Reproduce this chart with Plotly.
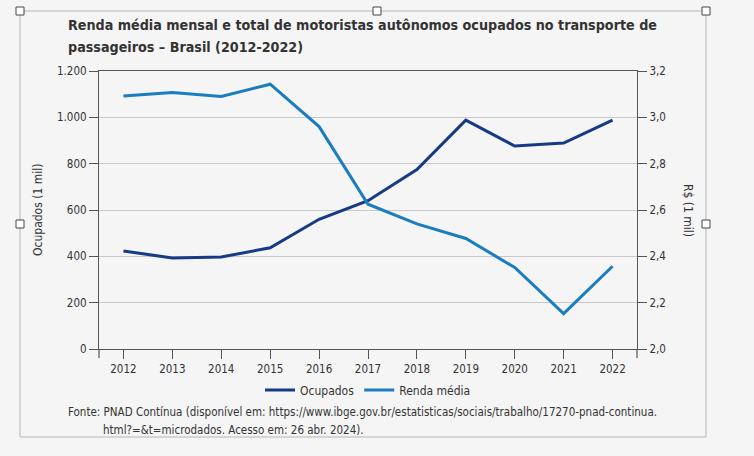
import plotly.graph_objects as go

anos = [2012, 2013, 2014, 2015, 2016, 2017, 2018, 2019, 2020, 2021, 2022]
ocupados = [423, 393, 397, 437, 560, 640, 775, 988, 876, 889, 988]
renda_media = [3.092, 3.107, 3.090, 3.143, 2.960, 2.625, 2.540, 2.477, 2.352, 2.153, 2.357]
y1_ticks = [0, 200, 400, 600, 800, 1000, 1200]
y1_labels = ["0", "200", "400", "600", "800", "1.000", "1.200"]
y2_ticks = [2.0, 2.2, 2.4, 2.6, 2.8, 3.0, 3.2]
y2_labels = ["2,0", "2,2", "2,4", "2,6", "2,8", "3,0", "3,2"]

FONT = "DejaVu Sans Condensed, Lato, sans-serif"
TXT = "#333333"
C_OCUP = "#173a86"
C_RENDA = "#1a7dc0"
BG = "#f5f5f5"

fig = go.Figure()
fig.add_trace(go.Scatter(x=anos, y=ocupados, name="Ocupados", mode="lines",
                         line=dict(color=C_OCUP, width=3), yaxis="y"))
fig.add_trace(go.Scatter(x=anos, y=renda_media, name="Renda média", mode="lines",
                         line=dict(color=C_RENDA, width=3), yaxis="y2"))

W, H = 754, 456
L, R, T, B = 99, 637, 71, 349

def px_x(x):
    return (x - L) / (R - L)

def px_y(y):
    return (B - y) / (B - T)

fig.update_layout(
    width=W, height=H,
    margin=dict(l=L, r=W - R, t=T, b=H - B, pad=0, autoexpand=False),
    paper_bgcolor=BG, plot_bgcolor=BG,
    font=dict(family=FONT, size=12, color=TXT),
    showlegend=True,
    legend=dict(orientation="h", x=0.5, xanchor="center",
                y=px_y(390), yanchor="middle",
                font=dict(size=12, color=TXT), itemwidth=30, bgcolor="rgba(0,0,0,0)",
                tracegroupgap=0),
    xaxis=dict(range=[2011.5, 2022.5], tickmode="array", tickvals=anos,
               ticktext=[str(a) for a in anos], showgrid=False, zeroline=False,
               showline=True, mirror=True, linecolor="#555555", linewidth=1.2,
               ticks="outside", ticklen=9, tickcolor="#555555", automargin=False,
               tickfont=dict(size=11.5, color=TXT)),
    yaxis=dict(range=[0, 1200], tickmode="array", tickvals=y1_ticks, ticktext=y1_labels,
               showgrid=True, gridcolor="#c9c9c9", gridwidth=1.2, zeroline=False,
               showline=True, linecolor="#555555", linewidth=1.2, automargin=False,
               ticks="outside", ticklen=9, tickcolor="#555555",
               tickfont=dict(size=11.5, color=TXT)),
    yaxis2=dict(range=[2.0, 3.2], tickmode="array", tickvals=y2_ticks, ticktext=y2_labels,
                overlaying="y", side="right", showgrid=False, zeroline=False,
                showline=True, linecolor="#555555", linewidth=1.2, automargin=False,
                ticks="outside", ticklen=9, tickcolor="#555555",
                tickfont=dict(size=11.5, color=TXT)),
)

ann = [
    dict(text="<b>Renda média mensal e total de motoristas autônomos ocupados no transporte de</b>",
         x=px_x(66), y=px_y(25), xanchor="left", yanchor="middle", font=dict(size=14.2, color=TXT)),
    dict(text="<b>passageiros – Brasil (2012-2022)</b>",
         x=px_x(66), y=px_y(47), xanchor="left", yanchor="middle", font=dict(size=14.2, color=TXT)),
    dict(text="Ocupados (1 mil)", x=px_x(38), y=px_y(210), textangle=-90,
         xanchor="center", yanchor="middle", font=dict(size=12, color=TXT)),
    dict(text="R$ (1 mil)", x=px_x(688), y=px_y(210), textangle=90,
         xanchor="center", yanchor="middle", font=dict(size=12, color=TXT)),
    dict(text="Fonte: PNAD Contínua (disponível em: https://www.ibge.gov.br/estatisticas/sociais/trabalho/17270-pnad-continua.",
         x=px_x(66), y=px_y(412), xanchor="left", yanchor="middle", font=dict(size=11.5, color=TXT)),
    dict(text="html?=&t=microdados. Acesso em: 26 abr. 2024).",
         x=px_x(101), y=px_y(430), xanchor="left", yanchor="middle", font=dict(size=11.5, color=TXT)),
]
for a in ann:
    a.update(xref="paper", yref="paper", showarrow=False)
fig.update_layout(annotations=ann)

shapes = []
shapes.append(dict(type="rect", xref="paper", yref="paper",
                   x0=px_x(20), x1=px_x(706), y0=px_y(437), y1=px_y(11),
                   line=dict(color="#b5b5b5", width=1), fillcolor="rgba(0,0,0,0)", layer="below"))
for xp in (L, R):
    shapes.append(dict(type="line", xref="paper", yref="paper",
                       x0=px_x(xp), x1=px_x(xp), y0=px_y(B), y1=px_y(B + 9),
                       line=dict(color="#555555", width=1.2)))
for (hx, hy) in [(20, 11), (377, 11), (706, 11), (20, 224), (706, 224)]:
    shapes.append(dict(type="rect", xref="paper", yref="paper",
                       x0=px_x(hx - 4), x1=px_x(hx + 4), y0=px_y(hy + 4), y1=px_y(hy - 4),
                       line=dict(color="#444444", width=1), fillcolor="#ffffff"))
fig.update_layout(shapes=shapes)

fig.write_html("out.html", config={"displayModeBar": False},
               post_script="document.body.style.margin='0';")
